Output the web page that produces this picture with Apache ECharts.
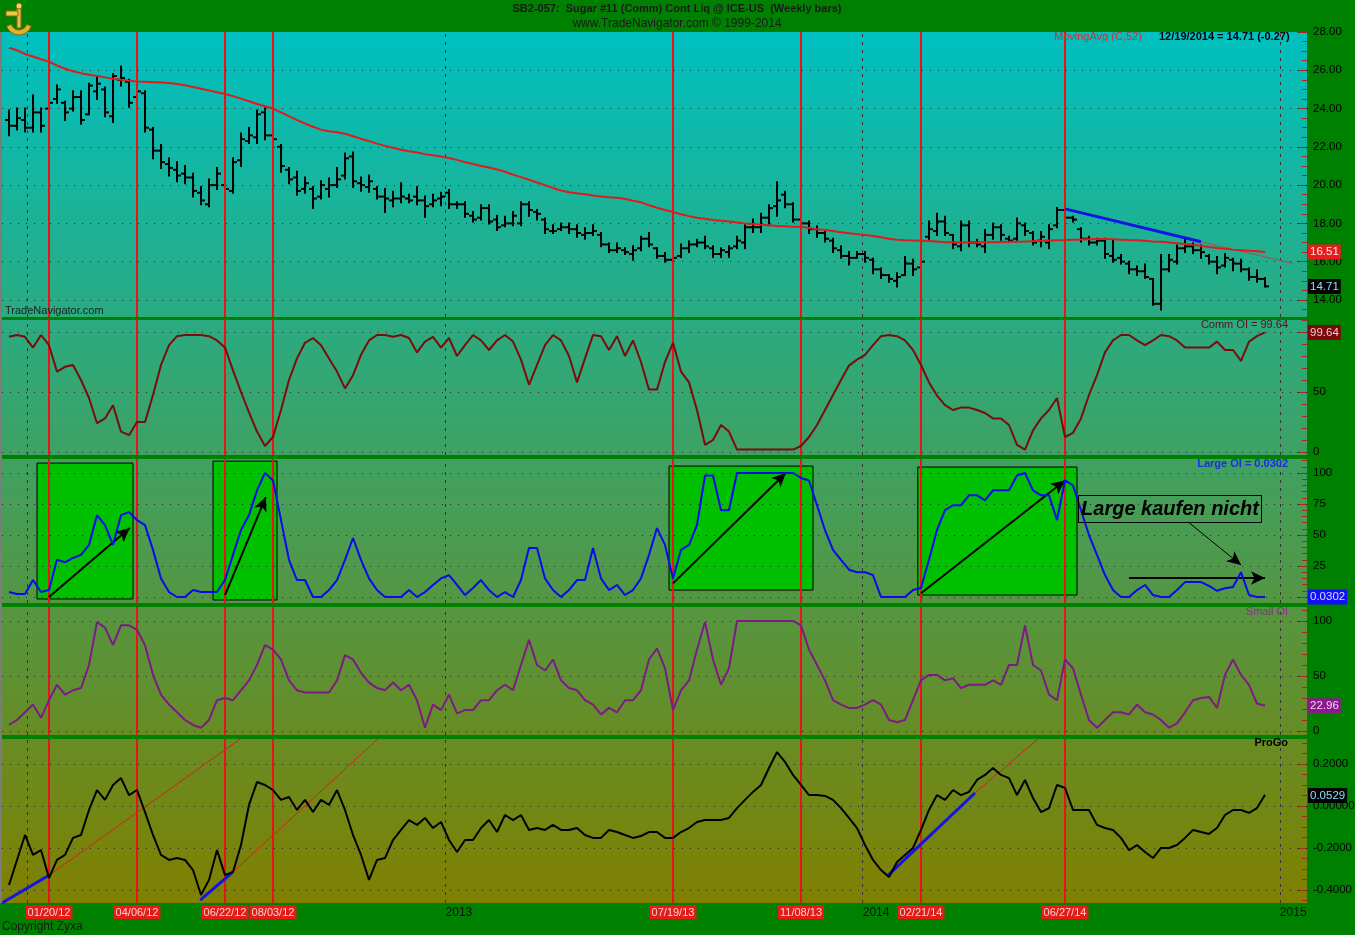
<!DOCTYPE html>
<html><head><meta charset="utf-8">
<script src="https://cdn.jsdelivr.net/npm/echarts@6/dist/echarts.min.js"></script>
<style>html,body{margin:0;padding:0;background:#008000;}#c{width:1355px;height:935px;}</style>
</head><body><div id="c"></div>
<script>
// ---- data (weekly bars, index 0 = 12/16/2011, last = 12/19/2014) ----
const opens = [23.4,23.1,23.4,23.0,23.8,24.0,24.5,24.3,24.0,24.6,
23.7,24.9,25.0,23.6,25.5,25.4,24.6,24.8,22.9,21.8,
21.1,20.8,20.6,20.4,19.6,19.0,20.0,20.0,19.7,21.3,
22.3,22.5,23.8,22.6,22.0,20.8,20.4,19.8,19.8,19.4,
19.8,20.0,20.5,21.5,20.1,19.9,19.8,19.4,19.2,19.3,
19.3,19.4,19.2,19.0,19.3,19.6,19.0,19.0,18.4,18.3,
18.8,18.2,17.9,18.0,18.0,19.0,18.6,18.2,17.6,17.7,
17.8,17.7,17.4,17.5,17.4,16.9,16.6,16.6,16.4,16.7,
17.2,16.7,16.3,16.1,16.3,16.7,16.9,17.0,16.7,16.4,
16.5,16.8,17.0,17.8,17.8,18.3,18.9,19.5,19.0,18.2,
18.0,17.7,17.5,17.1,16.6,16.3,16.2,16.4,16.1,15.6,
15.3,15.0,15.3,15.9,15.7,17.3,17.6,18.1,17.4,16.8,
17.9,17.0,16.8,17.4,17.8,17.2,17.2,17.9,17.5,17.1,
17.0,17.9,18.7,18.3,17.7,17.2,17.0,17.1,16.3,16.2,
15.9,15.6,15.5,15.1,13.8,15.6,16.0,16.7,16.8,16.6,
16.3,16.0,15.8,16.1,15.9,15.6,15.2,15.1];
const highs = [23.9,24.0,24.0,24.7,24.0,24.4,25.2,24.35,24.9,24.9,
25.3,25.7,25.1,25.8,26.2,25.5,25.5,24.9,23.0,22.1,
21.4,21.2,21.0,20.6,19.9,20.3,20.9,20.1,21.4,22.7,
23.0,23.9,24.0,23.7,22.1,20.9,20.7,20.4,19.9,20.2,
20.35,20.9,21.65,21.7,20.4,20.5,19.9,19.8,19.65,20.1,
19.5,19.9,19.4,19.5,19.6,19.75,19.1,19.1,18.6,18.95,
18.95,18.4,18.35,18.6,19.1,19.1,18.7,18.25,17.9,18.0,
18.0,17.9,17.75,17.9,17.5,16.95,16.95,16.7,16.8,17.3,
17.5,16.7,16.45,16.45,16.9,17.05,17.15,17.3,16.8,16.7,
16.8,17.3,17.9,18.2,18.5,18.95,20.15,19.65,19.05,18.25,
18.1,17.85,17.55,17.2,16.8,16.5,16.5,16.5,16.15,15.65,
15.3,15.4,16.25,16.1,16.1,18.1,18.5,18.35,17.4,18.1,
18.1,17.15,17.65,18.0,17.9,17.3,18.25,18.0,17.55,17.55,
17.9,18.8,18.8,18.35,17.75,17.3,17.2,17.2,17.1,16.35,
16.0,15.75,15.85,15.1,16.35,16.35,16.85,17.2,16.95,16.85,
16.35,16.25,16.4,16.15,16.1,15.65,15.55,15.15];
const lows = [22.6,22.9,22.8,22.8,22.8,23.9,24.3,23.4,23.9,23.2,
23.7,24.5,23.6,23.3,25.2,24.1,24.5,22.8,21.4,20.9,
20.5,20.2,20.1,19.4,19.0,18.9,19.8,19.7,19.6,21.0,
22.2,22.2,22.4,22.3,20.7,20.1,19.5,19.6,18.8,19.3,
19.4,19.9,20.35,19.9,19.7,19.65,19.3,18.6,18.9,19.1,
19.1,19.0,18.35,18.9,18.95,18.8,18.8,18.35,18.1,18.2,
18.0,17.65,17.85,17.9,17.9,18.4,18.2,17.5,17.5,17.65,
17.5,17.3,17.2,17.4,16.8,16.5,16.5,16.4,16.1,16.6,
16.8,16.2,16.0,16.1,16.25,16.5,16.8,16.7,16.25,16.25,
16.25,16.7,16.7,17.55,17.55,17.9,18.4,18.85,18.1,17.85,
17.5,17.3,17.05,16.5,16.2,15.85,16.2,16.0,15.4,15.15,
14.95,14.7,15.3,15.3,15.7,17.2,17.4,17.4,16.7,16.6,
16.8,16.8,16.5,17.2,17.15,17.05,17.15,17.4,16.9,16.8,
16.7,17.8,18.25,18.1,17.05,16.9,16.9,16.2,16.0,15.9,
15.4,15.3,15.15,13.75,13.5,15.5,15.9,16.5,16.45,16.2,
15.9,15.4,15.75,15.55,15.5,15.05,14.95,14.7];
const closes = [23.1,23.5,23.0,23.8,23.1,24.3,25.0,23.8,24.6,23.4,
25.2,25.3,23.8,25.7,25.6,24.3,24.9,23.0,21.8,21.2,
20.9,20.5,20.4,19.7,19.2,20.0,20.6,19.8,21.2,22.4,
22.6,23.7,22.6,22.4,21.0,20.3,19.7,20.1,19.3,20.0,
20.0,20.3,21.4,20.2,20.0,20.2,19.4,19.3,19.3,19.4,
19.2,19.2,18.9,19.2,19.4,19.0,19.0,18.5,18.2,18.8,
18.1,17.8,18.0,18.4,19.0,18.7,18.5,17.7,17.6,17.8,
17.7,17.5,17.5,17.6,16.9,16.6,16.7,16.5,16.6,17.2,
16.9,16.3,16.1,16.2,16.7,16.9,17.0,16.8,16.4,16.6,
16.7,17.1,17.8,17.8,18.3,18.8,19.2,19.0,18.2,18.0,
17.7,17.5,17.2,16.7,16.3,16.2,16.4,16.2,15.6,15.3,
15.1,15.2,15.9,15.6,16.0,17.7,18.1,17.5,16.9,17.9,
17.0,16.9,17.4,17.8,17.4,17.1,18.0,17.6,17.0,17.3,
17.7,18.7,18.3,18.2,17.2,17.0,17.1,16.4,16.1,16.0,
15.6,15.5,15.2,13.8,15.6,16.1,16.7,16.8,16.6,16.5,
16.0,15.7,16.2,15.9,15.6,15.2,15.1,14.71];
const movingAvg52 = [27.18,27.05,26.85,26.72,26.58,26.45,26.25,26.08,25.95,25.85,
25.77,25.70,25.63,25.56,25.50,25.45,25.42,25.40,25.38,25.36,
25.33,25.28,25.22,25.13,25.04,24.95,24.85,24.76,24.65,24.52,
24.38,24.24,24.12,24.0,23.8,23.6,23.4,23.22,23.05,22.9,
22.82,22.76,22.68,22.55,22.42,22.3,22.17,22.05,21.95,21.85,
21.77,21.7,21.62,21.56,21.5,21.42,21.32,21.2,21.1,21.0,
20.92,20.82,20.7,20.55,20.42,20.28,20.14,20.0,19.85,19.72,
19.63,19.57,19.52,19.46,19.41,19.37,19.34,19.28,19.18,19.1,
18.95,18.82,18.7,18.6,18.48,18.38,18.3,18.24,18.18,18.14,
18.1,18.05,18.0,17.97,17.93,17.9,17.87,17.85,17.83,17.82,
17.76,17.7,17.65,17.6,17.54,17.48,17.44,17.39,17.34,17.28,
17.2,17.14,17.12,17.11,17.1,17.08,17.05,17.02,17.01,17.0,
17.0,17.0,17.01,17.02,17.03,17.04,17.04,17.05,17.07,17.09,
17.11,17.12,17.13,17.15,17.16,17.17,17.18,17.18,17.17,17.15,
17.13,17.12,17.09,17.06,17.04,17.0,16.96,16.92,16.88,16.83,
16.77,16.72,16.68,16.63,16.6,16.57,16.54,16.51];
const commOI = [96,97.5,96,87,97.5,89,67,71,72.5,60,
45,24,28,39,17,14,25,25,47.5,72.5,
89,96.5,97.5,97.5,97.5,96.5,93,87,68,50,
33,17,5,12.5,35,60,78,91,95,89,
78,67,53,64,81,93,97.5,97.5,96,97.5,
95,83,92,96,87,95,80,89,97.5,93,
85,93,97.5,92,77,56,72.5,89,97.5,93,
80,58,78,97.5,96.5,85,96.5,80,93,75,
52,52,75,91,67,58,35,6,10,22.5,
17,2,2,2,2,2,2,2,2,5,
12.5,22.5,35,47.5,60,72,77,81,89,96.5,
97.5,96.5,93,85,72.5,58,47,39,35,37,
37,35,32.5,28,28,22.5,6,2,18,28,
35,45,12.5,16,28,47.5,64,83,93,97.5,
97.5,93,89,93,97.5,96.5,93,87,87,87,
87,92,85,85,76,92,96.5,99.64];
const largeOI = [4,2.4,2.4,13.7,4,5.6,30,28,31.5,34,
42,66,58,42,66,68.5,62,58,38,15,
4,0,0,5.6,4,4,4,13.7,34,54,
66,86,100,94,62,30,13.7,13.7,0,0,
5.6,13.7,30,47.6,30,15,5.6,0,0,0,
5.6,0,4,9.7,15,17.7,9.7,1.6,7.3,13.7,
5.6,0,4,0,13.7,39.5,39.5,15,5.6,0,
5.6,13.7,13.7,39.5,15,5.6,9.7,1.6,5.6,15,
34,55.6,42,15,38,42,58,98,98,70,
70,100,100,100,100,100,100,100,100,96,
94,74,54,38,30,22,20,20,17.7,0,
0,0,0,5.6,7.3,30,54,70,74,74,
82,82,78,86,86,86,98,100,86,82,
82,62,94,90,70,50,34,17.7,5.6,0,
0,5.6,9.7,1.6,0,0,5.6,12,12,12,
9,5,7,8,20,1.6,0.03,0.0302];
const smallOI = [5.5,10,17,24,12,28,42,33,37,39,
60,99,94,78,96,96,92,78,51,33,
24,17,10,5.5,3,10,28,30,28,37,
46,60,78,74,65,46,37,35,35,35,
35,46,69,65,53,44,39,37,44,37,
42,28,3,24,19,33,16,19,19,28,
28,37,42,37,60,83,60,55,65,46,
39,37,28,24,15,21,17,28,28,37,
65,75,57,19,37,46,74,99,65,42,
57,100,100,100,100,100,100,100,100,96,
74,60,46,28,24,21,21,24,28,24,
10,8,10,28,46,51,51,46,48,39,
42,42,42,46,42,60,60,96,60,55,
33,28,65,57,33,10,3,10,17,17,
15,24,17,15,10,3,7,17,28,30,
31,21,51,65,51,42,25,22.96];
const proGo = [-0.376,-0.257,-0.138,-0.233,-0.21,-0.343,-0.257,-0.233,-0.152,-0.138,
-0.019,0.076,0.029,0.1,0.133,0.052,0.076,-0.029,-0.138,-0.233,
-0.257,-0.248,-0.257,-0.305,-0.424,-0.352,-0.21,-0.329,-0.314,-0.186,
0.005,0.114,0.1,0.076,0.029,0.043,-0.019,0.029,-0.029,0.029,
0.005,0.076,-0.019,-0.138,-0.233,-0.352,-0.257,-0.248,-0.162,-0.114,
-0.067,-0.09,-0.057,-0.105,-0.076,-0.162,-0.219,-0.162,-0.162,-0.105,
-0.067,-0.124,-0.043,-0.067,-0.043,-0.114,-0.105,-0.114,-0.09,-0.114,
-0.114,-0.105,-0.138,-0.152,-0.152,-0.114,-0.124,-0.138,-0.152,-0.143,
-0.124,-0.124,-0.152,-0.152,-0.124,-0.105,-0.076,-0.067,-0.067,-0.067,
-0.057,-0.01,0.029,0.067,0.1,0.181,0.257,0.21,0.148,0.1,
0.052,0.052,0.048,0.029,-0.01,-0.057,-0.105,-0.186,-0.257,-0.305,
-0.338,-0.267,-0.233,-0.2,-0.114,-0.019,0.052,0.029,0.076,0.052,
0.067,0.124,0.148,0.181,0.148,0.133,0.052,0.124,0.038,-0.029,
-0.01,0.1,0.086,-0.019,-0.019,-0.019,-0.09,-0.105,-0.114,-0.152,
-0.21,-0.186,-0.219,-0.248,-0.2,-0.2,-0.186,-0.152,-0.114,-0.124,
-0.133,-0.105,-0.043,-0.019,-0.019,-0.033,-0.01,0.0529];

// event markers (week index) and labels
const redIdx = [5,16,27,33,83,99,114,132];
const redLabels = ['01/20/12','04/06/12','06/22/12','08/03/12','07/19/13','11/08/13','02/21/14','06/27/14'];
const yearPos = [2.286,54.571,106.714,158.857];
const yearLabelPos = [54.571,106.714,158.857];
const yearLabels = ['2013','2014','2015'];

// tick values
const priceTicks = [14,16,18,20,22,24,26,28];
const commTicks = [0,50,100];
const largeTicks = [0,25,50,75,100];
const smallTicks = [0,50,100];
const progoTicks = [-0.4,-0.2,0,0.2];
const progoTickLabels = ['-0.4000','-0.2000','0.00000','0.2000'];

// annotation lines (week index, value)
const largeBoxes = [[3.5,108,15.5,-1.6],[25.5,109.6,33.5,-2.4],[82.5,105.6,100.5,5.6],[113.6,104.8,133.5,1.6]];
const largeArrows = [[5,0,15.1,55.6],[27,1.6,32.1,80.6],[83,11,97.1,100],[114,3,132,94],[140,15.3,157,15.3]];
const largeThinArrow = [147.4,60.5,154,25.8];
const priceTrendBlue = [132,18.76,149,17.04];
const priceTrendExt = [149,17.04,160.5,15.9];
const progoBlue = [[-0.875,-0.462,5,-0.33],[23.9,-0.448,28,-0.314],[109.9,-0.329,120.75,0.062]];
const progoRed = [[5,-0.33,28.9,0.319],[28,-0.314,46.1,0.319],[120.75,0.062,128.6,0.319]];

// ---- layout ----
const FONT = 'Liberation Sans';
const panels = [
  {top:32, h:285, min:13.11, max:28},
  {top:320, h:135, min:-2.5, max:110},
  {top:459, h:144, min:-4.84, max:111.3},
  {top:607, h:128, min:-3.64, max:112.7},
  {top:739, h:164, min:-0.462, max:0.319}
];
function colAt(y){const t=Math.max(0,Math.min(1,(y-32)/871));return 'rgb('+Math.round(128*t)+','+Math.round(192-64*t)+','+Math.round(192-192*t)+')';}
const grids = panels.map(p=>({left:2,right:48,top:p.top,height:p.h,show:true,borderWidth:0,containLabel:false,outerBoundsMode:'none',
  backgroundColor:{type:'linear',x:0,y:0,x2:0,y2:1,colorStops:[{offset:0,color:colAt(p.top)},{offset:1,color:colAt(p.top+p.h)}]}}));

const XMIN=-0.875, XMAX=162.25;
const xAxes = panels.map((p,k)=>({type:'value',gridIndex:k,min:XMIN,max:XMAX,position:'bottom',
  axisLine:{show:false,onZero:false},axisTick:{show:false},splitLine:{show:false},
  axisLabel:k===4?{show:true,customValues:redIdx,margin:2,
     formatter:v=>{const j=redIdx.indexOf(v);return j>=0?'{r|'+redLabels[j]+'}':'';},
     rich:{r:{backgroundColor:'#E41B17',color:'#F6D2D2',padding:[2,2,1,2],fontSize:11,fontFamily:FONT}}}:{show:false}}));
xAxes.push({type:'value',gridIndex:4,min:XMIN,max:XMAX,position:'bottom',
  axisLine:{show:false,onZero:false},axisTick:{show:false},splitLine:{show:false},
  axisLabel:{show:true,customValues:yearLabelPos,align:'left',margin:4,color:'#111',fontSize:12,fontFamily:FONT,
    formatter:v=>{const j=yearLabelPos.indexOf(v);return j>=0?yearLabels[j]:'';}}});

function range(a,b,s){const r=[];for(let v=a;v<=b+1e-9;v+=s){r.push(Math.round(v*1000)/1000);}return r;}
const tickCol = '#A8281E';
const majorLabels = [
  {vals:priceTicks, fmt:v=>v.toFixed(2), minor:range(13.5,27.5,0.5).filter(v=>v%2!==0)},
  {vals:[0,50], ticks:commTicks, fmt:v=>String(v), minor:range(10,110,10).filter(v=>v%50!==0)},
  {vals:[25,50,75,100], ticks:largeTicks, fmt:v=>String(v), minor:range(0,110,5).filter(v=>v%25!==0)},
  {vals:smallTicks, fmt:v=>String(v), minor:range(10,110,10).filter(v=>v%50!==0)},
  {vals:progoTicks, fmt:v=>progoTickLabels[progoTicks.indexOf(v)], minor:[-0.45,-0.35,-0.3,-0.25,-0.15,-0.1,-0.05,0.05,0.1,0.15,0.25,0.3]}
];
const yAxes=[];
panels.forEach((p,k)=>{
  const m=majorLabels[k];
  yAxes.push({type:'value',gridIndex:k,position:'right',min:p.min,max:p.max,offset:0,
    axisLine:{show:false,onZero:false},splitLine:{show:false},
    axisTick:{show:true,inside:true,length:10,customValues:m.ticks||m.vals,lineStyle:{color:tickCol,width:1}},
    axisLabel:{show:true,customValues:m.vals,formatter:m.fmt,color:'#000',fontSize:11.5,fontFamily:FONT,margin:6}});
  yAxes.push({type:'value',gridIndex:k,position:'right',min:p.min,max:p.max,offset:0,
    axisLine:{show:false,onZero:false},splitLine:{show:false},
    axisTick:{show:true,inside:true,length:5,customValues:m.minor,lineStyle:{color:tickCol,width:1}},
    axisLabel:{show:false}});
});

const dotStyle = {type:[1,7],color:'#1a1a1a',width:1,opacity:0.8};
const dashStyle = {type:[3,5],color:'#333',width:1};
const redStyle = {type:'solid',color:'#E8141A',width:2};
const gridVals = [[14,16,18,20,22,24,26],[0,50,100],[0,25,50,75,100],[0,50,100],[-0.4,-0.2,0,0.2]];

const series=[];
panels.forEach((p,k)=>{
  series.push({type:'line',xAxisIndex:k,yAxisIndex:2*k,data:[],z:1,silent:true,
    markLine:{silent:true,symbol:['none','none'],label:{show:false},animation:false,
      data:[...gridVals[k].map(v=>({yAxis:v,lineStyle:dotStyle})),...yearPos.map(v=>({xAxis:v,lineStyle:dashStyle}))]}});
  series.push({type:'line',xAxisIndex:k,yAxisIndex:2*k,data:[],z:8,silent:true,
    markLine:{silent:true,symbol:['none','none'],label:{show:false},animation:false,
      data:redIdx.map(v=>({xAxis:v,lineStyle:redStyle}))}});
});

function seg(a,style){return [{coord:[a[0],a[1]],lineStyle:style},{coord:[a[2],a[3]]}];}
function valueLabel(k,v,text,bg,col){
  return {type:'line',xAxisIndex:k,yAxisIndex:2*k,data:[],z:12,silent:true,
    markLine:{silent:true,symbol:['none','none'],animation:false,lineStyle:{color:'transparent',width:0},
      label:{show:true,position:'end',distance:1,formatter:text,backgroundColor:bg,color:col,padding:[2,2,1,2],fontSize:11.5,fontFamily:FONT},
      data:[{yAxis:v}]}};
}

// price panel
series.push({type:'custom',xAxisIndex:0,yAxisIndex:0,z:4,silent:true,
  data:closes.map((c,i)=>[i,opens[i],highs[i],lows[i],c]),
  encode:{x:0,y:[1,2,3,4]},
  renderItem:function(params,api){
    const x=api.value(0);
    const o=api.coord([x,api.value(1)]),h=api.coord([x,api.value(2)]),l=api.coord([x,api.value(3)]),c=api.coord([x,api.value(4)]);
    const st={stroke:'#000',lineWidth:2};
    return {type:'group',children:[
      {type:'line',shape:{x1:h[0],y1:h[1]-1,x2:l[0],y2:l[1]+1},style:st},
      {type:'line',shape:{x1:o[0]-4,y1:o[1],x2:o[0],y2:o[1]},style:st},
      {type:'line',shape:{x1:c[0],y1:c[1],x2:c[0]+4,y2:c[1]},style:st}]};
  }});
series.push({type:'line',xAxisIndex:0,yAxisIndex:0,z:5,silent:true,symbol:'none',
  data:movingAvg52.map((v,i)=>[i,v]),lineStyle:{color:'#E01B1B',width:2}});
series.push({type:'line',xAxisIndex:0,yAxisIndex:0,data:[],z:9,silent:true,
  markLine:{silent:true,symbol:['none','none'],label:{show:false},animation:false,
    data:[seg(priceTrendBlue,{color:'#1414E6',width:3,type:'solid'}),seg(priceTrendExt,{color:'#A8504A',width:1,type:'solid'})]}});
series.push(valueLabel(0,16.51,'16.51','#E81C1C','#FFE8E8'));
series.push(valueLabel(0,14.71,'14.71','#000000','#80E0FF'));

// comm
series.push({type:'line',xAxisIndex:1,yAxisIndex:2,z:5,silent:true,symbol:'none',
  data:commOI.map((v,i)=>[i,v]),lineStyle:{color:'#7A0C0C',width:2}});
series.push(valueLabel(1,99.64,'99.64','#7A0A0A','#F2C8C8'));

// large
series.push({type:'line',xAxisIndex:2,yAxisIndex:4,data:[],z:3,silent:true,
  markArea:{silent:true,animation:false,itemStyle:{color:'#00C000',borderColor:'#000',borderWidth:1},
    data:largeBoxes.map(b=>[{coord:[b[0],b[1]]},{coord:[b[2],b[3]]}])}});
series.push({type:'line',xAxisIndex:2,yAxisIndex:4,z:5,silent:true,symbol:'none',
  data:largeOI.map((v,i)=>[i,v]),lineStyle:{color:'#0A0AF0',width:2}});
series.push({type:'line',xAxisIndex:2,yAxisIndex:4,data:[],z:10,silent:true,
  markLine:{silent:true,symbol:['none','arrow'],symbolSize:[10,14],label:{show:false},animation:false,
    data:[...largeArrows.map(a=>seg(a,{color:'#000',width:2,type:'solid'})),seg(largeThinArrow,{color:'#000',width:1,type:'solid'})]}});
series.push(valueLabel(2,0.0302,'0.0302','#1010FF','#DCDCFF'));

// small
series.push({type:'line',xAxisIndex:3,yAxisIndex:6,z:5,silent:true,symbol:'none',
  data:smallOI.map((v,i)=>[i,v]),lineStyle:{color:'#7E1A86',width:2}});
series.push(valueLabel(3,22.96,'22.96','#8A1A8A','#F2D4F2'));

// progo
series.push({type:'line',xAxisIndex:4,yAxisIndex:8,z:5,silent:true,symbol:'none',
  data:proGo.map((v,i)=>[i,v]),lineStyle:{color:'#000',width:2}});
series.push({type:'line',xAxisIndex:4,yAxisIndex:8,data:[],z:9,silent:true,
  markLine:{silent:true,symbol:['none','none'],label:{show:false},animation:false,
    data:[...progoBlue.map(a=>seg(a,{color:'#1414E6',width:3,type:'solid'})),...progoRed.map(a=>seg(a,{color:'#D42020',width:1,type:'solid'}))]}});
series.push(valueLabel(4,0.0529,'0.0529','#000000','#80E0FF'));

function txt(x,y,text,font,fill,align){return {type:'text',x:x,y:y,z:100,silent:true,style:{text:text,font:font,fill:fill,align:align||'left',verticalAlign:'middle'}};}
const graphic = [
  {type:'rect',z:100,silent:true,shape:{x:0,y:32,width:2,height:871},style:{fill:'#7c7c7c'}},
  {type:'group',x:3,y:2,z:100,silent:true,children:[
    {type:'sector',shape:{cx:16,cy:20,r:13,r0:8,startAngle:Math.PI*0.1,endAngle:Math.PI*0.9},style:{fill:'#E2B32A',stroke:'#8A6512',lineWidth:1}},
    {type:'rect',shape:{x:14,y:4,width:4,height:22},style:{fill:'#E8C040',stroke:'#8A6512',lineWidth:1}},
    {type:'rect',shape:{x:3,y:9,width:12,height:5},style:{fill:'#F0C848',stroke:'#8A6512',lineWidth:1}},
    {type:'circle',shape:{cx:16,cy:4,r:3},style:{fill:'#F4D060',stroke:'#8A6512',lineWidth:1}}]},
  txt(677,9,'SB2-057:  Sugar #11 (Comm) Cont Liq @ ICE-US  (Weekly bars)','bold 11px "Liberation Sans"','#1a1a1a','center'),
  txt(677,24,'www.TradeNavigator.com \u00a9 1999-2014','12px "Liberation Sans"','#1a1a1a','center'),
  txt(1054,37,'MovingAvg (C,52)','11px "Liberation Sans"','#C83434'),
  txt(1159,37,'12/19/2014 = 14.71 (-0.27)','bold 11px "Liberation Sans"','#000'),
  txt(5,311,'TradeNavigator.com','11px "Liberation Sans"','#1e1e1e'),
  txt(1288,325,'Comm OI = 99.64','11px "Liberation Sans"','#5A1414','right'),
  txt(1288,464,'Large OI = 0.0302','bold 11px "Liberation Sans"','#1830E0','right'),
  txt(1288,612,'Small OI','11px "Liberation Sans"','#962896','right'),
  txt(1288,743,'ProGo','bold 11px "Liberation Sans"','#000','right'),
  txt(2,927,'Copyright Zyxa','12px "Liberation Sans"','#1a1a1a'),
  {type:'rect',z:100,silent:true,shape:{x:1078.5,y:495.5,width:183,height:27},style:{fill:'none',stroke:'#000',lineWidth:1}},
  txt(1170,509,'Large kaufen nicht','italic bold 20px "Liberation Sans"','#000','center')
];

const chart = echarts.init(document.getElementById('c'),null,{renderer:'canvas'});
chart.setOption({
  animation:false,
  backgroundColor:'#008000',
  textStyle:{fontFamily:FONT},
  grid:grids, xAxis:xAxes, yAxis:yAxes, series:series, graphic:graphic
});
</script></body></html>
